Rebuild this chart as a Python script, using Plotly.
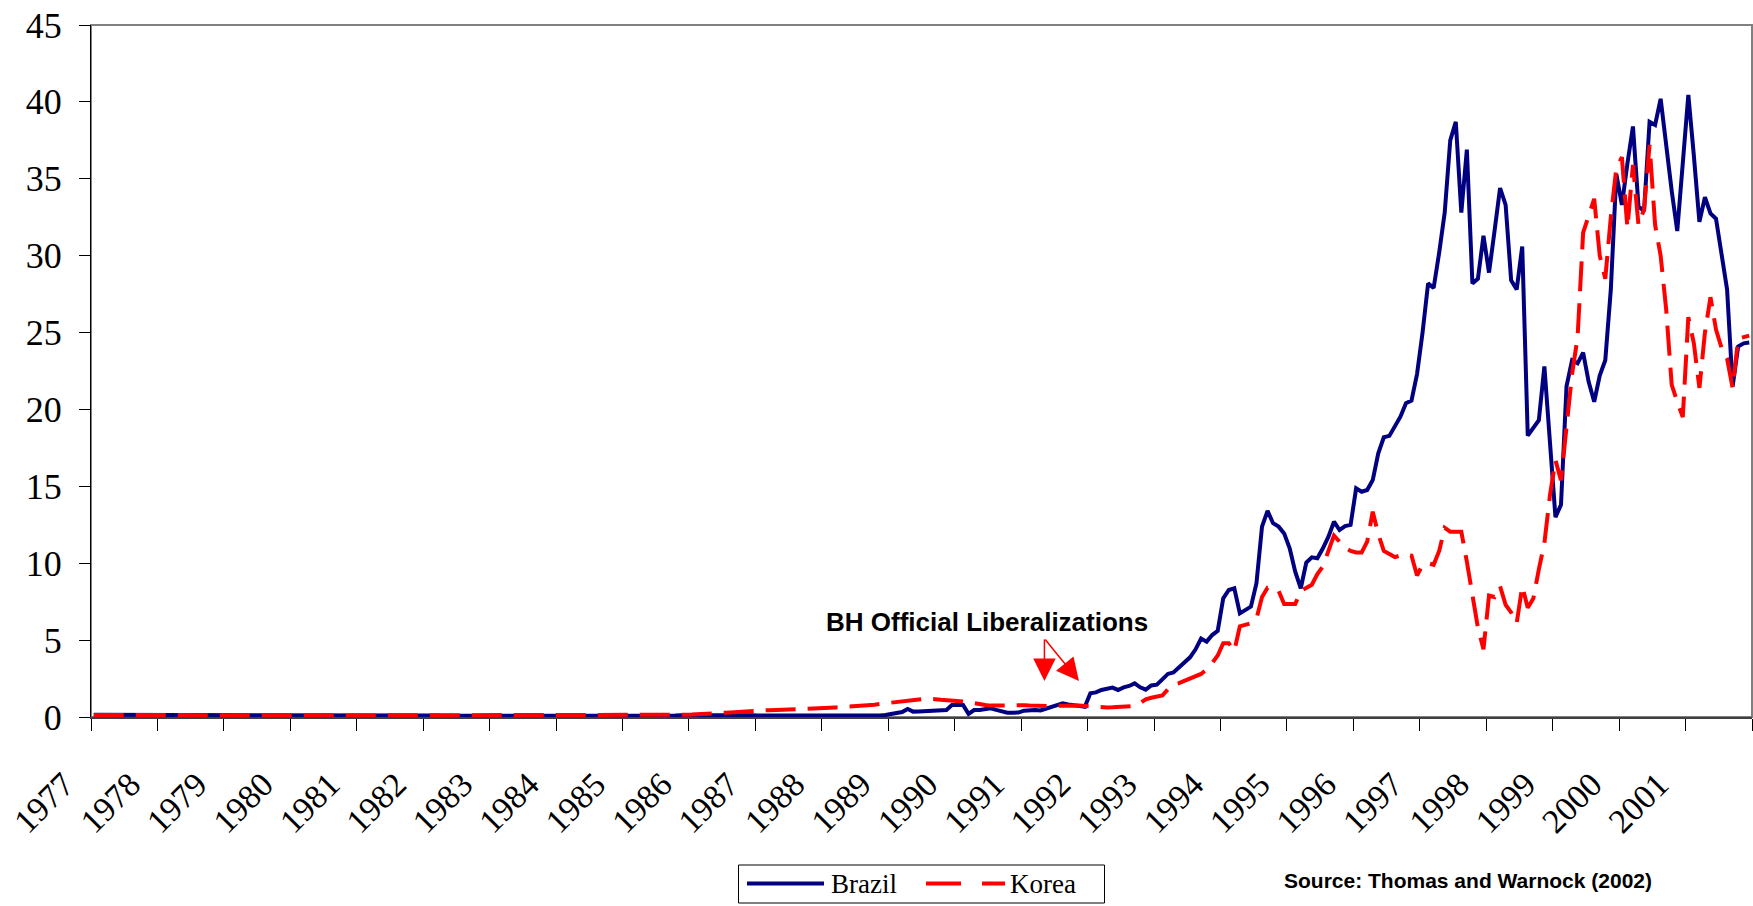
import plotly.graph_objects as go

years = list(range(1977, 2002))

brazil_by_year = {
    1977: [0.14, 0.14, 0.15, 0.15, 0.14, 0.14, 0.15, 0.15, 0.14, 0.14, 0.14, 0.13],
    1978: [0.13, 0.13, 0.14, 0.14, 0.15, 0.15, 0.14, 0.14, 0.13, 0.13, 0.13, 0.13],
    1979: [0.13, 0.13, 0.12, 0.12, 0.12, 0.12, 0.12, 0.12, 0.11, 0.11, 0.10, 0.10],
    1980: [0.10, 0.10, 0.10, 0.10, 0.11, 0.11, 0.11, 0.11, 0.10, 0.10, 0.10, 0.10],
    1981: [0.10, 0.10, 0.10, 0.10, 0.10, 0.10, 0.09, 0.09, 0.09, 0.09, 0.09, 0.09],
    1982: [0.09, 0.09, 0.09, 0.08, 0.08, 0.08, 0.08, 0.08, 0.08, 0.08, 0.08, 0.08],
    1983: [0.08, 0.08, 0.08, 0.08, 0.08, 0.08, 0.07, 0.07, 0.07, 0.07, 0.07, 0.06],
    1984: [0.06, 0.05, 0.04, 0.04, 0.04, 0.05, 0.05, 0.05, 0.05, 0.06, 0.06, 0.06],
    1985: [0.07, 0.07, 0.07, 0.08, 0.08, 0.08, 0.09, 0.09, 0.10, 0.10, 0.11, 0.11],
    1986: [0.12, 0.13, 0.14, 0.16, 0.17, 0.17, 0.16, 0.15, 0.14, 0.13, 0.12, 0.11],
    1987: [0.10, 0.10, 0.09, 0.09, 0.08, 0.08, 0.07, 0.07, 0.07, 0.06, 0.06, 0.06],
    1988: [0.06, 0.06, 0.05, 0.05, 0.05, 0.05, 0.06, 0.06, 0.07, 0.08, 0.10, 0.13],
    1989: [0.18, 0.22, 0.32, 0.52, 0.35, 0.36, 0.38, 0.40, 0.41, 0.43, 0.46, 0.78],
    1990: [0.80, 0.78, 0.20, 0.45, 0.46, 0.52, 0.56, 0.46, 0.35, 0.28, 0.28, 0.29],
    1991: [0.41, 0.45, 0.45, 0.43, 0.56, 0.67, 0.78, 0.89, 0.82, 0.78, 0.72, 0.67],
    1992: [1.54, 1.60, 1.76, 1.82, 1.91, 1.76, 1.93, 2.02, 2.19, 1.93, 1.78, 2.05],
    1993: [2.10, 2.45, 2.80, 2.90, 3.25, 3.60, 3.88, 4.40, 5.10, 4.90, 5.33, 5.60],
    1994: [7.72, 8.26, 8.37, 6.74, 7.00, 7.18, 8.70, 12.38, 13.40, 12.60, 12.38, 11.94],
    1995: [10.97, 9.45, 8.37, 10.04, 10.38, 10.32, 10.97, 11.73, 12.70, 12.16, 12.42, 12.49],
    1996: [14.87, 14.65, 14.76, 15.41, 17.15, 18.19, 18.28, 18.88, 19.53, 20.40, 20.57, 22.30],
    1997: [25.0, 28.2, 27.9, 30.2, 32.8, 37.5, 38.7, 32.8, 36.9, 28.2, 28.5, 31.3],
    1998: [28.9, 31.6, 34.4, 33.3, 28.4, 27.8, 30.6, 18.3, 18.8, 19.3, 22.8, 17.9],
    1999: [13.0, 13.8, 21.5, 23.2, 23.0, 23.7, 21.8, 20.5, 22.2, 23.2, 27.8, 35.3],
    2000: [33.3, 36.0, 38.4, 33.2, 32.9, 38.7, 38.5, 40.2, 37.1, 34.2, 31.6, 36.1],
    2001: [40.45, 36.5, 32.2, 33.8, 32.75, 32.4, 30.15, 27.8, 21.5, 24.1, 24.3, 24.35],
}

korea_by_year = {
    1977: [0.13, 0.13, 0.14, 0.14, 0.14, 0.15, 0.15, 0.15, 0.15, 0.15, 0.15, 0.15],
    1978: [0.16, 0.16, 0.16, 0.17, 0.17, 0.17, 0.16, 0.16, 0.16, 0.16, 0.15, 0.15],
    1979: [0.15, 0.15, 0.15, 0.14, 0.14, 0.14, 0.14, 0.13, 0.13, 0.13, 0.13, 0.12],
    1980: [0.12, 0.12, 0.11, 0.11, 0.11, 0.11, 0.11, 0.11, 0.11, 0.11, 0.10, 0.10],
    1981: [0.10, 0.10, 0.11, 0.11, 0.11, 0.11, 0.12, 0.12, 0.11, 0.11, 0.11, 0.11],
    1982: [0.11, 0.10, 0.10, 0.10, 0.10, 0.10, 0.10, 0.10, 0.10, 0.10, 0.10, 0.10],
    1983: [0.10, 0.10, 0.10, 0.10, 0.09, 0.09, 0.09, 0.09, 0.09, 0.09, 0.09, 0.09],
    1984: [0.09, 0.09, 0.09, 0.09, 0.09, 0.09, 0.09, 0.09, 0.10, 0.10, 0.10, 0.10],
    1985: [0.10, 0.10, 0.10, 0.10, 0.11, 0.11, 0.11, 0.12, 0.12, 0.13, 0.14, 0.15],
    1986: [0.16, 0.17, 0.18, 0.20, 0.22, 0.25, 0.28, 0.30, 0.33, 0.35, 0.37, 0.40],
    1987: [0.42, 0.43, 0.44, 0.45, 0.46, 0.48, 0.50, 0.51, 0.52, 0.53, 0.54, 0.56],
    1988: [0.58, 0.60, 0.62, 0.64, 0.66, 0.68, 0.70, 0.72, 0.76, 0.80, 0.85, 0.90],
    1989: [0.94, 0.98, 1.02, 1.06, 1.10, 1.14, 1.18, 1.19, 1.16, 1.12, 1.10, 1.08],
    1990: [1.06, 1.02, 0.98, 0.90, 0.82, 0.78, 0.74, 0.72, 0.72, 0.74, 0.76, 0.78],
    1991: [0.76, 0.74, 0.72, 0.72, 0.72, 0.73, 0.74, 0.76, 0.78, 0.77, 0.75, 0.72],
    1992: [0.68, 0.66, 0.63, 0.62, 0.63, 0.65, 0.66, 0.68, 0.72, 0.90, 1.15, 1.25],
    1993: [1.35, 1.40, 1.80, 2.10, 2.20, 2.35, 2.45, 2.60, 2.80, 3.10, 3.50, 4.00],
    1994: [4.80, 4.80, 4.30, 5.90, 6.00, 6.10, 6.40, 7.80, 8.40, 8.40, 8.20, 7.35],
    1995: [7.35, 7.35, 8.20, 8.40, 8.60, 9.30, 9.80, 10.80, 11.80, 11.40, 11.00, 10.80],
    1996: [10.7, 10.7, 11.4, 13.35, 11.9, 10.8, 10.6, 10.4, 10.5, 10.6, 10.5, 9.2],
    1997: [9.9, 10.0, 9.9, 10.8, 12.3, 12.05, 12.05, 12.05, 10.1, 8.0, 5.8, 4.4],
    1998: [7.9, 7.8, 8.5, 7.3, 6.8, 6.1, 8.5, 7.1, 7.7, 9.6, 11.3, 14.4],
    1999: [16.7, 15.4, 19.1, 22.3, 24.7, 31.5, 32.6, 33.7, 30.0, 28.5, 32.5, 35.7],
    2000: [36.4, 31.8, 35.9, 32.0, 33.0, 37.2, 32.0, 30.0, 26.5, 21.6, 20.5, 19.5],
    2001: [26.0, 24.3, 21.4, 25.0, 27.3, 25.2, 24.0, 23.3, 21.4, 24.6, 24.7, 24.8],
}

tick_years = list(range(1977, 2003))
tick_labels = [str(y) for y in range(1977, 2002)] + [""]
y_ticks = list(range(0, 50, 5))

# monthly positions (centre of each month, in fractional years)
months_x = [y + (k + 0.5) / 12 for y in years for k in range(12)]
brazil = [v for y in years for v in brazil_by_year[y]]
korea = [v for y in years for v in korea_by_year[y]]

NAVY = "#000080"
RED = "#FF0000"
SERIF = "Liberation Serif, Times New Roman, serif"
SANS = "Liberation Sans, Arial, sans-serif"
DASH = "30px,12px"

fig = go.Figure()
fig.add_trace(go.Scatter(x=months_x, y=brazil, mode="lines", name="Brazil",
                         line=dict(color=NAVY, width=4)))
fig.add_trace(go.Scatter(x=months_x, y=korea, mode="lines", name="Korea",
                         line=dict(color=RED, width=4, dash=DASH)))

W, H = 1753, 906
ML, MR, MT, MB = 91, 1, 25, 189
PW, PH = W - ML - MR, H - MT - MB

def px_to_paper_x(px):
    return (px - ML) / PW

def px_to_paper_y(py):
    return (H - MB - py) / PH

fig.update_layout(
    width=W, height=H,
    margin=dict(l=ML, r=MR, t=MT, b=MB, pad=0),
    paper_bgcolor="white", plot_bgcolor="white",
    showlegend=False,
    xaxis=dict(range=[1977, 2002], tickmode="array", tickvals=tick_years, ticktext=tick_labels,
               tickangle=-45, ticks="outside", ticklen=12, tickcolor="black", tickwidth=1,
               ticklabelstandoff=20, ticklabelshift=-27,
               showline=True, linecolor="#404040", linewidth=2, showgrid=False, zeroline=False,
               tickfont=dict(family=SERIF, size=34, color="black"), automargin=False),
    yaxis=dict(range=[0, 45], tickmode="array", tickvals=y_ticks, ticks="outside", ticklen=11,
               tickcolor="black", tickwidth=1, showline=True, linecolor="black", linewidth=1,
               showgrid=False, zeroline=False, ticklabelstandoff=10,
               tickfont=dict(family=SERIF, size=36, color="black"), automargin=False),
)

# plot-area border (grey, top and right)
fig.add_shape(type="rect", xref="paper", yref="paper", x0=0, x1=1, y0=0, y1=1,
              line=dict(color="#808080", width=2), layer="below")

# annotation text and arrows
fig.add_annotation(x=px_to_paper_x(987), y=px_to_paper_y(621.5), xref="paper", yref="paper",
                   text="<b>BH Official Liberalizations</b>", showarrow=False,
                   font=dict(family=SANS, size=26, color="black"),
                   xanchor="center", yanchor="middle")
for hx, ax in [(1991.35, 0), (1991.87, -35)]:
    fig.add_annotation(x=hx, y=2.34, xref="x", yref="y", text="", showarrow=True,
                       ax=ax, ay=-43, axref="pixel", ayref="pixel",
                       arrowhead=2, arrowsize=3, arrowwidth=1.5, arrowcolor=RED, standoff=0)

# source note
fig.add_annotation(x=px_to_paper_x(1467.5), y=px_to_paper_y(880), xref="paper", yref="paper",
                   text="<b>Source: Thomas and Warnock (2002)</b>", showarrow=False,
                   font=dict(family=SANS, size=21, color="black"),
                   xanchor="center", yanchor="middle")

# legend box drawn by hand (long sample lines as in the original)
fig.add_shape(type="rect", xref="paper", yref="paper",
              x0=px_to_paper_x(738.5), x1=px_to_paper_x(1104.5),
              y0=px_to_paper_y(903), y1=px_to_paper_y(865),
              line=dict(color="black", width=1), fillcolor="white", layer="above")
legend_y = px_to_paper_y(883.5)
fig.add_shape(type="line", xref="paper", yref="paper",
              x0=px_to_paper_x(747), x1=px_to_paper_x(824), y0=legend_y, y1=legend_y,
              line=dict(color=NAVY, width=4))
fig.add_shape(type="line", xref="paper", yref="paper",
              x0=px_to_paper_x(926), x1=px_to_paper_x(1005), y0=legend_y, y1=legend_y,
              line=dict(color=RED, width=4, dash="35px,21px"))
for name, lx in [("Brazil", 829), ("Korea", 1008)]:
    fig.add_annotation(x=px_to_paper_x(lx), y=px_to_paper_y(884), xref="paper", yref="paper",
                       text=name, showarrow=False, font=dict(family=SERIF, size=27, color="black"),
                       xanchor="left", yanchor="middle")

fig.write_html("out.html", config={"displayModeBar": False},
               post_script="document.body.style.margin='0';document.body.style.overflow='hidden';")
